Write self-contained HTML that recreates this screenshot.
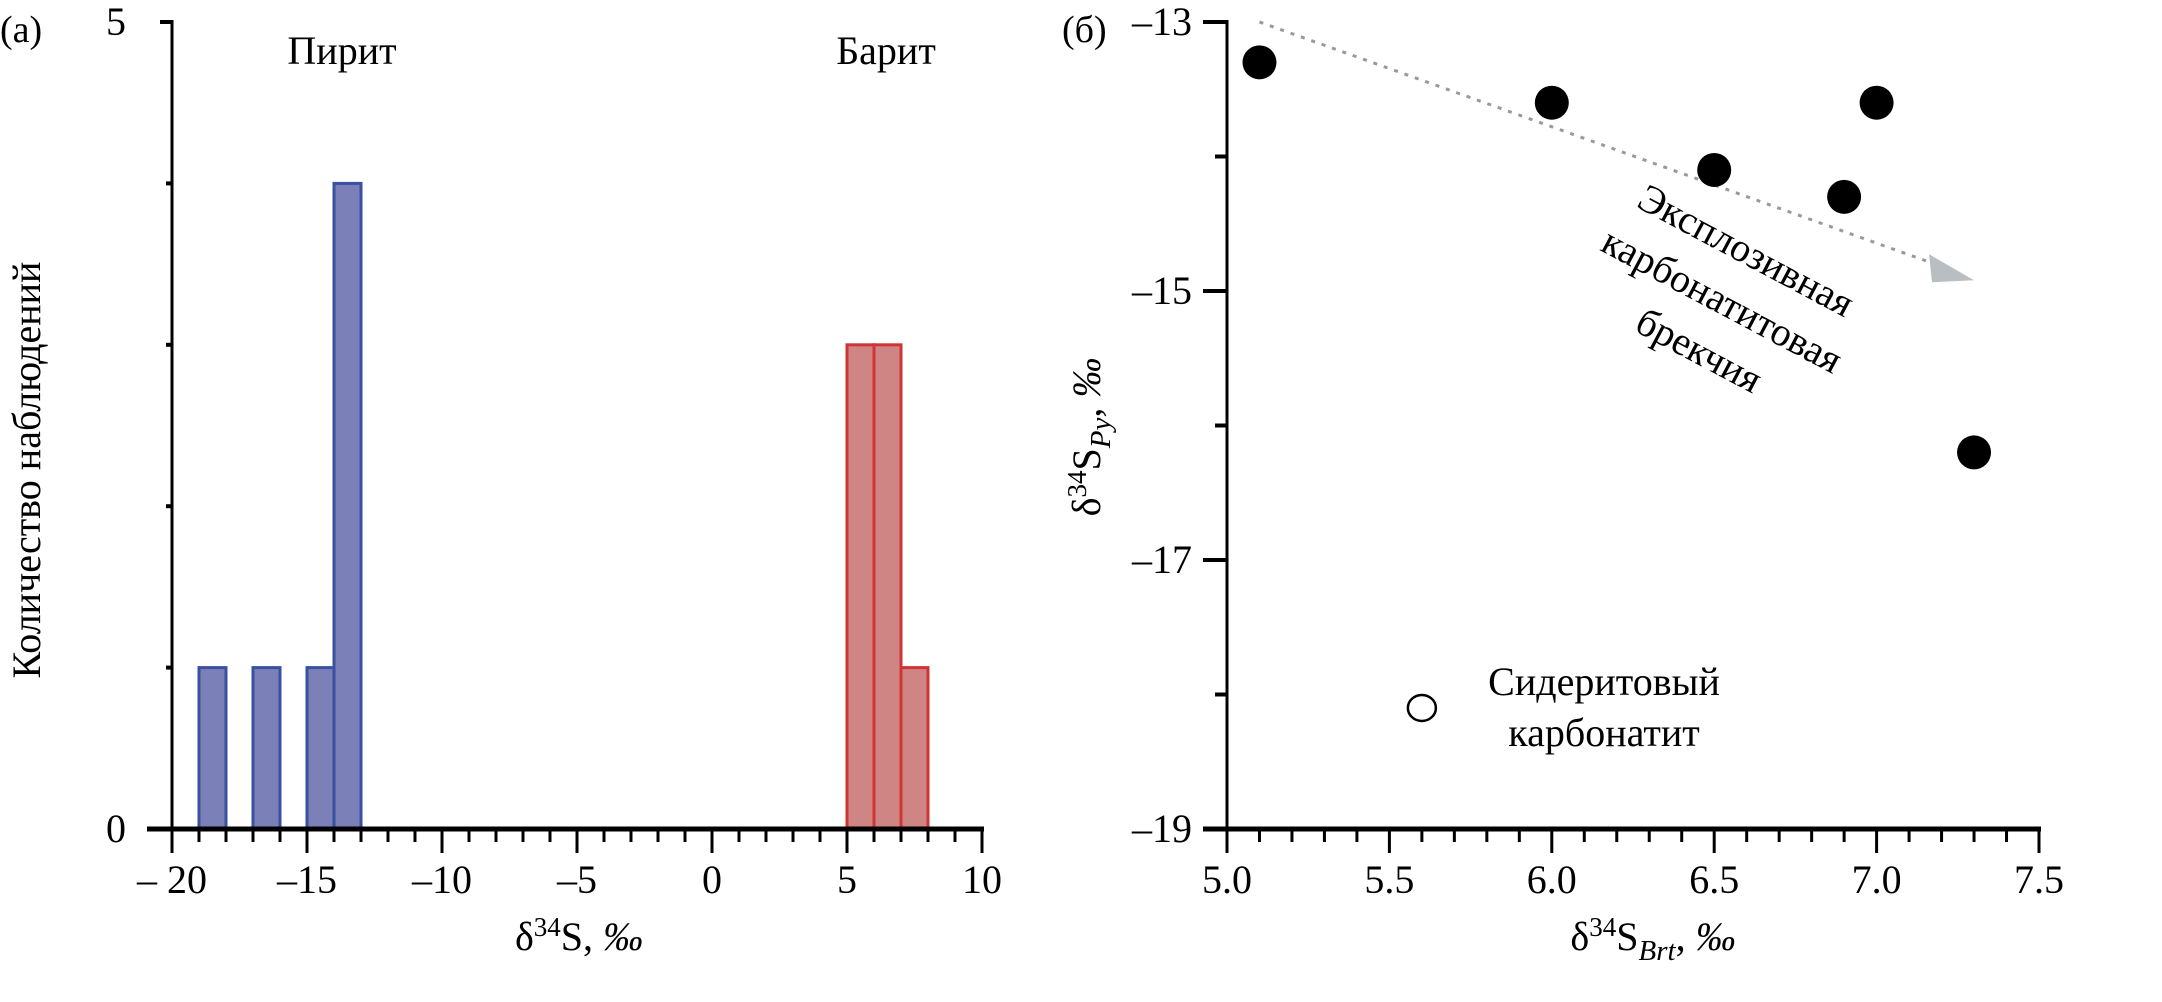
<!DOCTYPE html>
<html><head><meta charset="utf-8"><style>
html,body{margin:0;padding:0;background:#fff;}
svg, svg text{font-family:"Liberation Serif","DejaVu Serif","Noto Serif CJK SC",serif;}
</style></head><body>
<svg id="c" width="2162" height="997" viewBox="0 0 2162 997" xmlns="http://www.w3.org/2000/svg" font-family="Liberation Serif, DejaVu Serif, serif"></svg>
<script>
// Panel (a) histogram data
const pyBins = [-19, -17, -15, -14];
const pyCounts = [1, 1, 1, 4];
const brBins = [5, 6, 7];
const brCounts = [3, 3, 1];
const histXTicks = [-20, -15, -10, -5, 0, 5, 10];
const histXTickLabels = ["\u2013 20", "\u201315", "\u201310", "\u20135", "0", "5", "10"];
// Panel (b) scatter data
const brtX = [5.1, 6.0, 7.0, 6.5, 6.9, 7.3];
const pyY = [-13.3, -13.6, -13.6, -14.1, -14.3, -16.2];
const sidX = [5.6];
const sidY = [-18.1];
const scXTicks = [5.0, 5.5, 6.0, 6.5, 7.0, 7.5];
const scYTicks = [-13, -15, -17, -19];

const svg = document.getElementById('c');
const NS = 'http://www.w3.org/2000/svg';
function mk(tag, attrs, parent){const e=document.createElementNS(NS,tag);for(const k in attrs)e.setAttribute(k,attrs[k]);(parent||svg).appendChild(e);return e;}

const hx = v => 172 + (v + 20) * 27;
const hy = v => 829 - v * 161.4;
const sx = v => 1227 + (v - 5) * 324.8;
const sy = v => 22 + (-13 - v) * 134.5;

let t;
pyBins.forEach((b,i)=>{
  const r=mk('rect',{x:hx(b),y:hy(pyCounts[i]),width:hx(b+1)-hx(b),height:hy(0)-hy(pyCounts[i]),fill:'#7b80b8',stroke:'#3a50a0','stroke-width':3});
  
  
});
brBins.forEach((b,i)=>{
  const r=mk('rect',{x:hx(b),y:hy(brCounts[i]),width:hx(b+1)-hx(b),height:hy(0)-hy(brCounts[i]),fill:'#d08585',stroke:'#d03535','stroke-width':3});
  
  
});
t=mk('line',{x1:147,y1:829,x2:984,y2:829,stroke:'#000','stroke-width':5});

t=mk('line',{x1:172,y1:20,x2:172,y2:853,stroke:'#000','stroke-width':3});

for(let v=-20; v<=10; v++){
  const major = v%5===0;
  const l=mk('line',{x1:hx(v),y1:829,x2:hx(v),y2:major?853:842,stroke:'#000','stroke-width':3});
  
}
histXTicks.forEach((v,i)=>{
  const e=mk('text',{x:hx(v),y:893,'font-size':40,'text-anchor':'middle','font-family':'Liberation Serif, DejaVu Serif, serif'});e.textContent=histXTickLabels[i];
  
});
for(let c=0;c<=5;c++){
  const l=mk('line',{x1:c===0||c===5?160:166,y1:hy(c),x2:172,y2:hy(c),stroke:'#000','stroke-width':4});
  
}
[0,5].forEach(c=>{
  const e=mk('text',{x:126,y:hy(c)+13,'font-size':40,'text-anchor':'end','font-family':'Liberation Serif, DejaVu Serif, serif'});e.textContent=c;
  
});
</script>
<script>
(function(){
function T(x,y,s,txt,name,extra){const e=document.createElementNS(NS,'text');e.setAttribute('x',x);e.setAttribute('y',y);e.setAttribute('font-size',s);e.setAttribute('font-family','Liberation Serif, DejaVu Serif, serif');for(const k in (extra||{}))e.setAttribute(k,extra[k]);e.innerHTML=txt;svg.appendChild(e);return e;}
T(0,42,38,'(а)','panel-a-label');
T(342,64,40,'Пирит','pyrite-label',{'text-anchor':'middle'});
T(886,64,40,'Барит','barite-label',{'text-anchor':'middle'});
T(579,950,40,'δ<tspan dy="-14" font-size="27">34</tspan><tspan dy="14">S, </tspan><tspan font-style="italic">‰</tspan>','hist-x-title',{'text-anchor':'middle'});
T(0,0,40,'Количество наблюдений','hist-y-title',{'text-anchor':'middle',transform:'translate(40,470) rotate(-90)'});

T(1062,42,38,'(б)','panel-b-label');
let a=mk('line',{x1:sx(5.1),y1:sy(-13.0),x2:sx(7.18),y2:sy(-14.8),stroke:'#999','stroke-width':3,'stroke-dasharray':'4 7'});

const ex=sx(7.3), ey=sy(-14.92);
a=mk('polygon',{points:`${ex},${ey} ${ex-45},${ey-26} ${ex-42},${ey+2}`,fill:'#b8bec2'});


brtX.forEach((v,i)=>{
  const c=mk('ellipse',{cx:sx(v),cy:sy(pyY[i]),rx:17,ry:17,fill:'#000'});
  
});
sidX.forEach((v,i)=>{
  const c=mk('ellipse',{cx:sx(v),cy:sy(sidY[i]),rx:14,ry:13,fill:'#fff',stroke:'#000','stroke-width':2.5});
  
});
T(1604,695,40,'Сидеритовый','siderite-label-1',{'text-anchor':'middle'});
T(1604,746,40,'карбонатит','siderite-label-2',{'text-anchor':'middle'});
T(0,0,40,'Эксплозивная','breccia-label-1',{'text-anchor':'middle',transform:'translate(1740,262) rotate(28)'});
T(0,0,40,'карбонатитовая','breccia-label-2',{'text-anchor':'middle',transform:'translate(1716,312) rotate(28)'});
T(0,0,40,'брекчия','breccia-label-3',{'text-anchor':'middle',transform:'translate(1693,362) rotate(28)'});

let l=mk('line',{x1:1203,y1:829,x2:2041,y2:829,stroke:'#000','stroke-width':5});

l=mk('line',{x1:1227,y1:20,x2:1227,y2:853,stroke:'#000','stroke-width':3});

for(let k=0;k<=25;k++){
  const v=5+k*0.1, major=k%5===0;
  l=mk('line',{x1:sx(v),y1:829,x2:sx(v),y2:major?853:842,stroke:'#000','stroke-width':3});
  
}
scXTicks.forEach(v=>T(sx(v),893,40,v.toFixed(1),'scatter-x-tick-label',{'text-anchor':'middle'}));
for(let v=-13;v>=-19;v--){
  const major=(v%2!==0);
  l=mk('line',{x1:major?1203:1215,y1:sy(v),x2:1227,y2:sy(v),stroke:'#000','stroke-width':4});
  
}
scYTicks.forEach(v=>T(1192,sy(v)+13,40,'\u2013'+Math.abs(v),'scatter-y-tick-label',{'text-anchor':'end'}));
T(1653,950,40,'δ<tspan dy="-14" font-size="27">34</tspan><tspan dy="14">S</tspan><tspan dy="10" font-size="29" font-style="italic">Brt</tspan><tspan dy="-10">, </tspan><tspan font-style="italic">‰</tspan>','scatter-x-title',{'text-anchor':'middle'});
T(0,0,40,'δ<tspan dy="-14" font-size="27">34</tspan><tspan dy="14">S</tspan><tspan dy="10" font-size="29" font-style="italic">Py</tspan><tspan dy="-10">, </tspan><tspan font-style="italic">‰</tspan>','scatter-y-title',{'text-anchor':'middle',transform:'translate(1100,437) rotate(-90)'});
})();
</script>
</body></html>
